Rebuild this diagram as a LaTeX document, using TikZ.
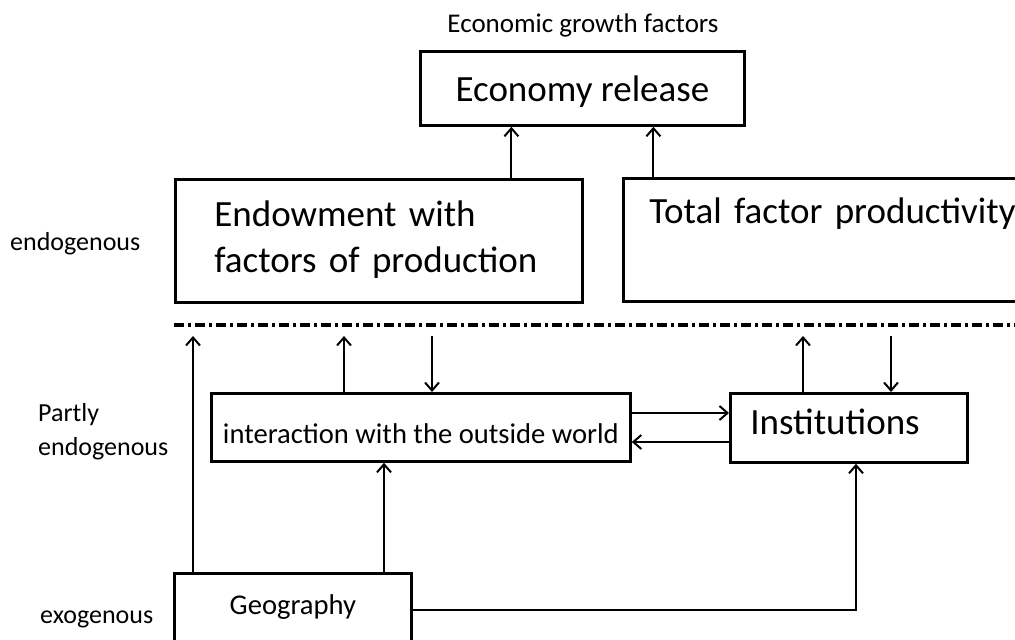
\documentclass[tikz,border=0pt]{standalone}
\usepackage{fontspec}
\setmainfont{Carlito}
\usetikzlibrary{arrows.meta}

\begin{document}
\begin{tikzpicture}[x=1pt,y=-1pt,
    box/.style={draw, line width=2.8pt, inner sep=0pt, anchor=north west},
    big/.style={font=\fontsize{37}{46}\selectfont},
    mid/.style={font=\fontsize{28.6}{34}\selectfont},
    side/.style={font=\fontsize{26}{34}\selectfont, align=left, anchor=base west, inner sep=0pt},
    arr/.style={line width=1.9pt, -{Straight Barb[length=8pt,width=14pt,line width=2pt]}},
    divider/.style={line width=3.8pt, dash pattern=on 10pt off 4pt on 3pt off 4pt}]
\useasboundingbox (0,0) rectangle (1015,640);
% levels
\node[side, font=\fontsize{27}{30}\selectfont, anchor=base] (title) at (583,32) {Economic growth factors};
\node[side] (endo) at (10,250) {endogenous};
\node[side] (partly) at (38,455) {Partly\\endogenous};
\node[side] (exo) at (40,623) {exogenous};
% boxes
\node[box, big, minimum width=324, text height=50, text depth=24] (econ) at (419,50) {Economy release};
\node[box, big, minimum width=407, inner xsep=39, text width=329, align=left,
      text height=47, text depth=76] (endow) at (174,178) {Endowment with\\factors of production};
\node[box, big, minimum width=456, inner xsep=26, text width=404, align=left,
      text height=45, text depth=78] (tfp) at (622,177) {Total factor productivity};
\node[box, mid, minimum width=419, text height=50, text depth=18] (inter) at (210,392) {interaction with the outside world};
\node[box, big, minimum width=237, inner xsep=20, text width=197, align=left,
      text height=41, text depth=28] (inst) at (729,392) {Institutions};
\node[box, mid, minimum width=237, text height=41, text depth=59] (geo) at (173,572) {Geography};
% border between endogenous and the rest
\coordinate (bar) at (0,336);
\draw[divider] ([yshift=-21pt]endow.south west) -- ([yshift=-21pt]endow.south west -| tfp.east);
% arrows
\draw[arr] ([xshift=-71pt]econ.south |- endow.north) -- ([xshift=-71pt]econ.south);
\draw[arr] ([xshift=71pt]econ.south |- tfp.north) -- ([xshift=71pt]econ.south);
\draw[arr] ([xshift=20pt]geo.north west) -- ([xshift=20pt]geo.north west |- bar);
\draw[arr] ([xshift=134pt]inter.north west) -- ([xshift=134pt]inter.north west |- bar);
\draw[arr] ([xshift=222pt]inter.north west |- bar) -- ([xshift=222pt]inter.north west);
\draw[arr] ([xshift=74pt]inst.north west) -- ([xshift=74pt]inst.north west |- bar);
\draw[arr] ([xshift=162pt]inst.north west |- bar) -- ([xshift=162pt]inst.north west);
\draw[arr] ([yshift=-21pt]inter.north east) -- ([yshift=-21pt]inter.north east -| inst.west);
\draw[arr] ([yshift=-50pt]inst.north west) -- ([yshift=-50pt]inst.north west -| inter.east);
\draw[arr] ([xshift=174pt]inter.south west |- geo.north) -- ([xshift=174pt]inter.south west);
\draw[arr] ([yshift=-38pt]geo.north east) -| ([xshift=127pt]inst.south west);
\end{tikzpicture}
\end{document}
